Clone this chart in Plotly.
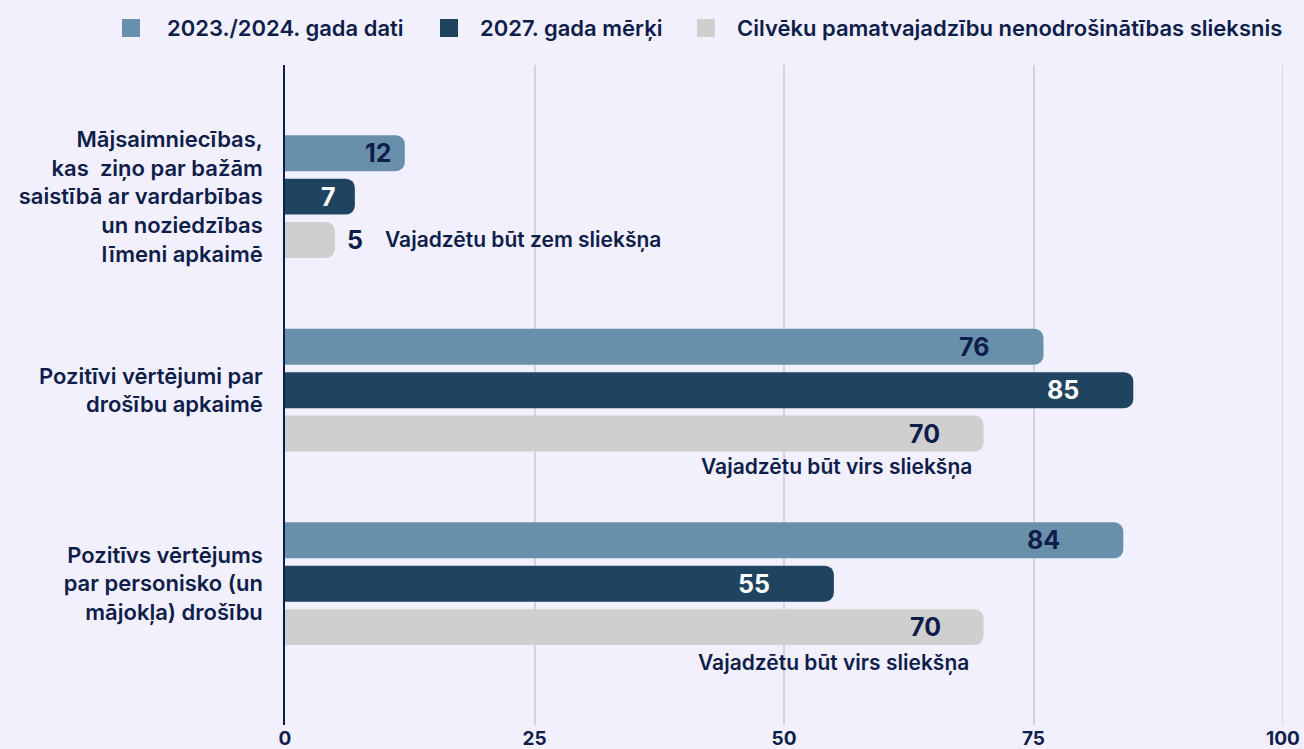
import plotly.graph_objects as go

categories = [
    "Mājsaimniecības,<br>kas  ziņo par bažām<br>saistībā ar vardarbības<br>un noziedzības<br>līmeni apkaimē",
    "Pozitīvi vērtējumi par<br>drošību apkaimē",
    "Pozitīvs vērtējums<br>par personisko (un<br>mājokļa) drošību",
]
series_names = ["2023./2024. gada dati", "2027. gada mērķi",
                "Cilvēku pamatvajadzību nenodrošinātības slieksnis"]
data_2023 = [12, 76, 84]
target_2027 = [7, 85, 55]
threshold = [5, 70, 70]
threshold_notes = ["Vajadzētu būt zem sliekšņa", "Vajadzētu būt virs sliekšņa",
                   "Vajadzētu būt virs sliekšņa"]
x_ticks = [0, 25, 50, 75, 100]

NAVY = "#0F1D4A"
COLORS = ["#6890AB", "#1E4460", "#CFCFCF"]
LABEL_COLORS = [NAVY, "white", NAVY]
BG = "#F1F0FC"
FONT = "Inter"
GRID = "#D3D3DB"

W, H = 1304, 749
ML, MR, MT, MB = 285, 21, 65, 24
PW, PH = W - ML - MR, H - MT - MB

def px_x(px):
    return (px - ML) / PW

def px_y(py):
    return (H - MB - py) / PH

ypos = list(range(len(categories)))
series = [data_2023, target_2027, threshold]
# pixel gap between bar end and right edge of its value label
label_gaps = [[11, 52, 61], [17, 52, 62], [None, 42, 41]]
bar_offsets = [-0.224, 0.0, 0.224]

fig = go.Figure()

for name, vals, color in zip(series_names, series, COLORS):
    fig.add_trace(go.Bar(
        name=name, y=ypos, x=vals, orientation="h", showlegend=False,
        marker=dict(color=color, cornerradius=9, line=dict(width=0)),
        hoverinfo="x",
    ))

# value labels
for si, (vals, col, gaps, off) in enumerate(zip(series, LABEL_COLORS, label_gaps, bar_offsets)):
    for i, v in enumerate(vals):
        if gaps[i] is None:
            fig.add_annotation(x=v, y=i + off, text=str(v), xanchor="left", xshift=10,
                               showarrow=False,
                               font=dict(family=FONT, size=25, color=NAVY, weight=700))
        else:
            fig.add_annotation(x=v, y=i + off, text=str(v), xanchor="right",
                               xshift=-gaps[i], showarrow=False,
                               font=dict(family=FONT, size=25, color=col, weight=700))

annotations = [
    dict(x=threshold[0] + 4.8, y=0.224, text=threshold_notes[0], xanchor="left"),
    dict(x=threshold[1] - 1.0, y=1.394, text=threshold_notes[1], xanchor="right"),
    dict(x=threshold[2] - 1.3, y=2.405, text=threshold_notes[2], xanchor="right"),
]
for a in annotations:
    fig.add_annotation(**a, xref="x", yref="y", showarrow=False,
                       font=dict(family=FONT, size=21, color=NAVY, weight=600))

# gridline at the right edge (100), which plotly does not draw on the border
fig.add_shape(type="line", xref="x", yref="paper", x0=x_ticks[-1], x1=x_ticks[-1],
              y0=0, y1=1, line=dict(color=GRID, width=1.5), layer="below")

# manual legend (square swatches + labels) at the top
legend_square_px = [122, 440, 697]
legend_text_px = [165, 478, 735]
legend_y_px = 28
for name, color, sx, tx in zip(series_names, COLORS, legend_square_px, legend_text_px):
    fig.add_shape(type="rect", xref="paper", yref="paper",
                  x0=px_x(sx), x1=px_x(sx + 18),
                  y0=px_y(legend_y_px + 9), y1=px_y(legend_y_px - 9),
                  fillcolor=color, line=dict(width=0))
    fig.add_annotation(x=px_x(tx), y=px_y(legend_y_px), xref="paper", yref="paper",
                       text=name, xanchor="left", yanchor="middle", showarrow=False,
                       font=dict(family=FONT, size=22, color=NAVY, weight=600))

fig.update_layout(
    width=W, height=H,
    paper_bgcolor=BG, plot_bgcolor=BG,
    margin=dict(l=ML, r=MR, t=MT, b=MB, autoexpand=False),
    barmode="group", bargap=0.327, bargroupgap=0.172,
    font=dict(family=FONT, size=21, color=NAVY, weight=600),
    showlegend=False,
    xaxis=dict(range=[0, 100], tickvals=x_ticks, showgrid=True, gridcolor=GRID,
               gridwidth=1.5, zeroline=False, showline=False, fixedrange=True,
               tickfont=dict(family=FONT, size=19, color=NAVY, weight=700)),
    yaxis=dict(range=[2.73, -0.68], tickvals=ypos, ticktext=categories, showgrid=False,
               zeroline=False, showline=True, linecolor=NAVY, linewidth=1.5,
               ticks="", ticklabelstandoff=16,
               tickfont=dict(family=FONT, size=22, color=NAVY, weight=600)),
)

fig.write_html("out.html", config={"displayModeBar": False},
               post_script="document.body.style.margin='0';document.body.style.background='#F1F0FC';")
